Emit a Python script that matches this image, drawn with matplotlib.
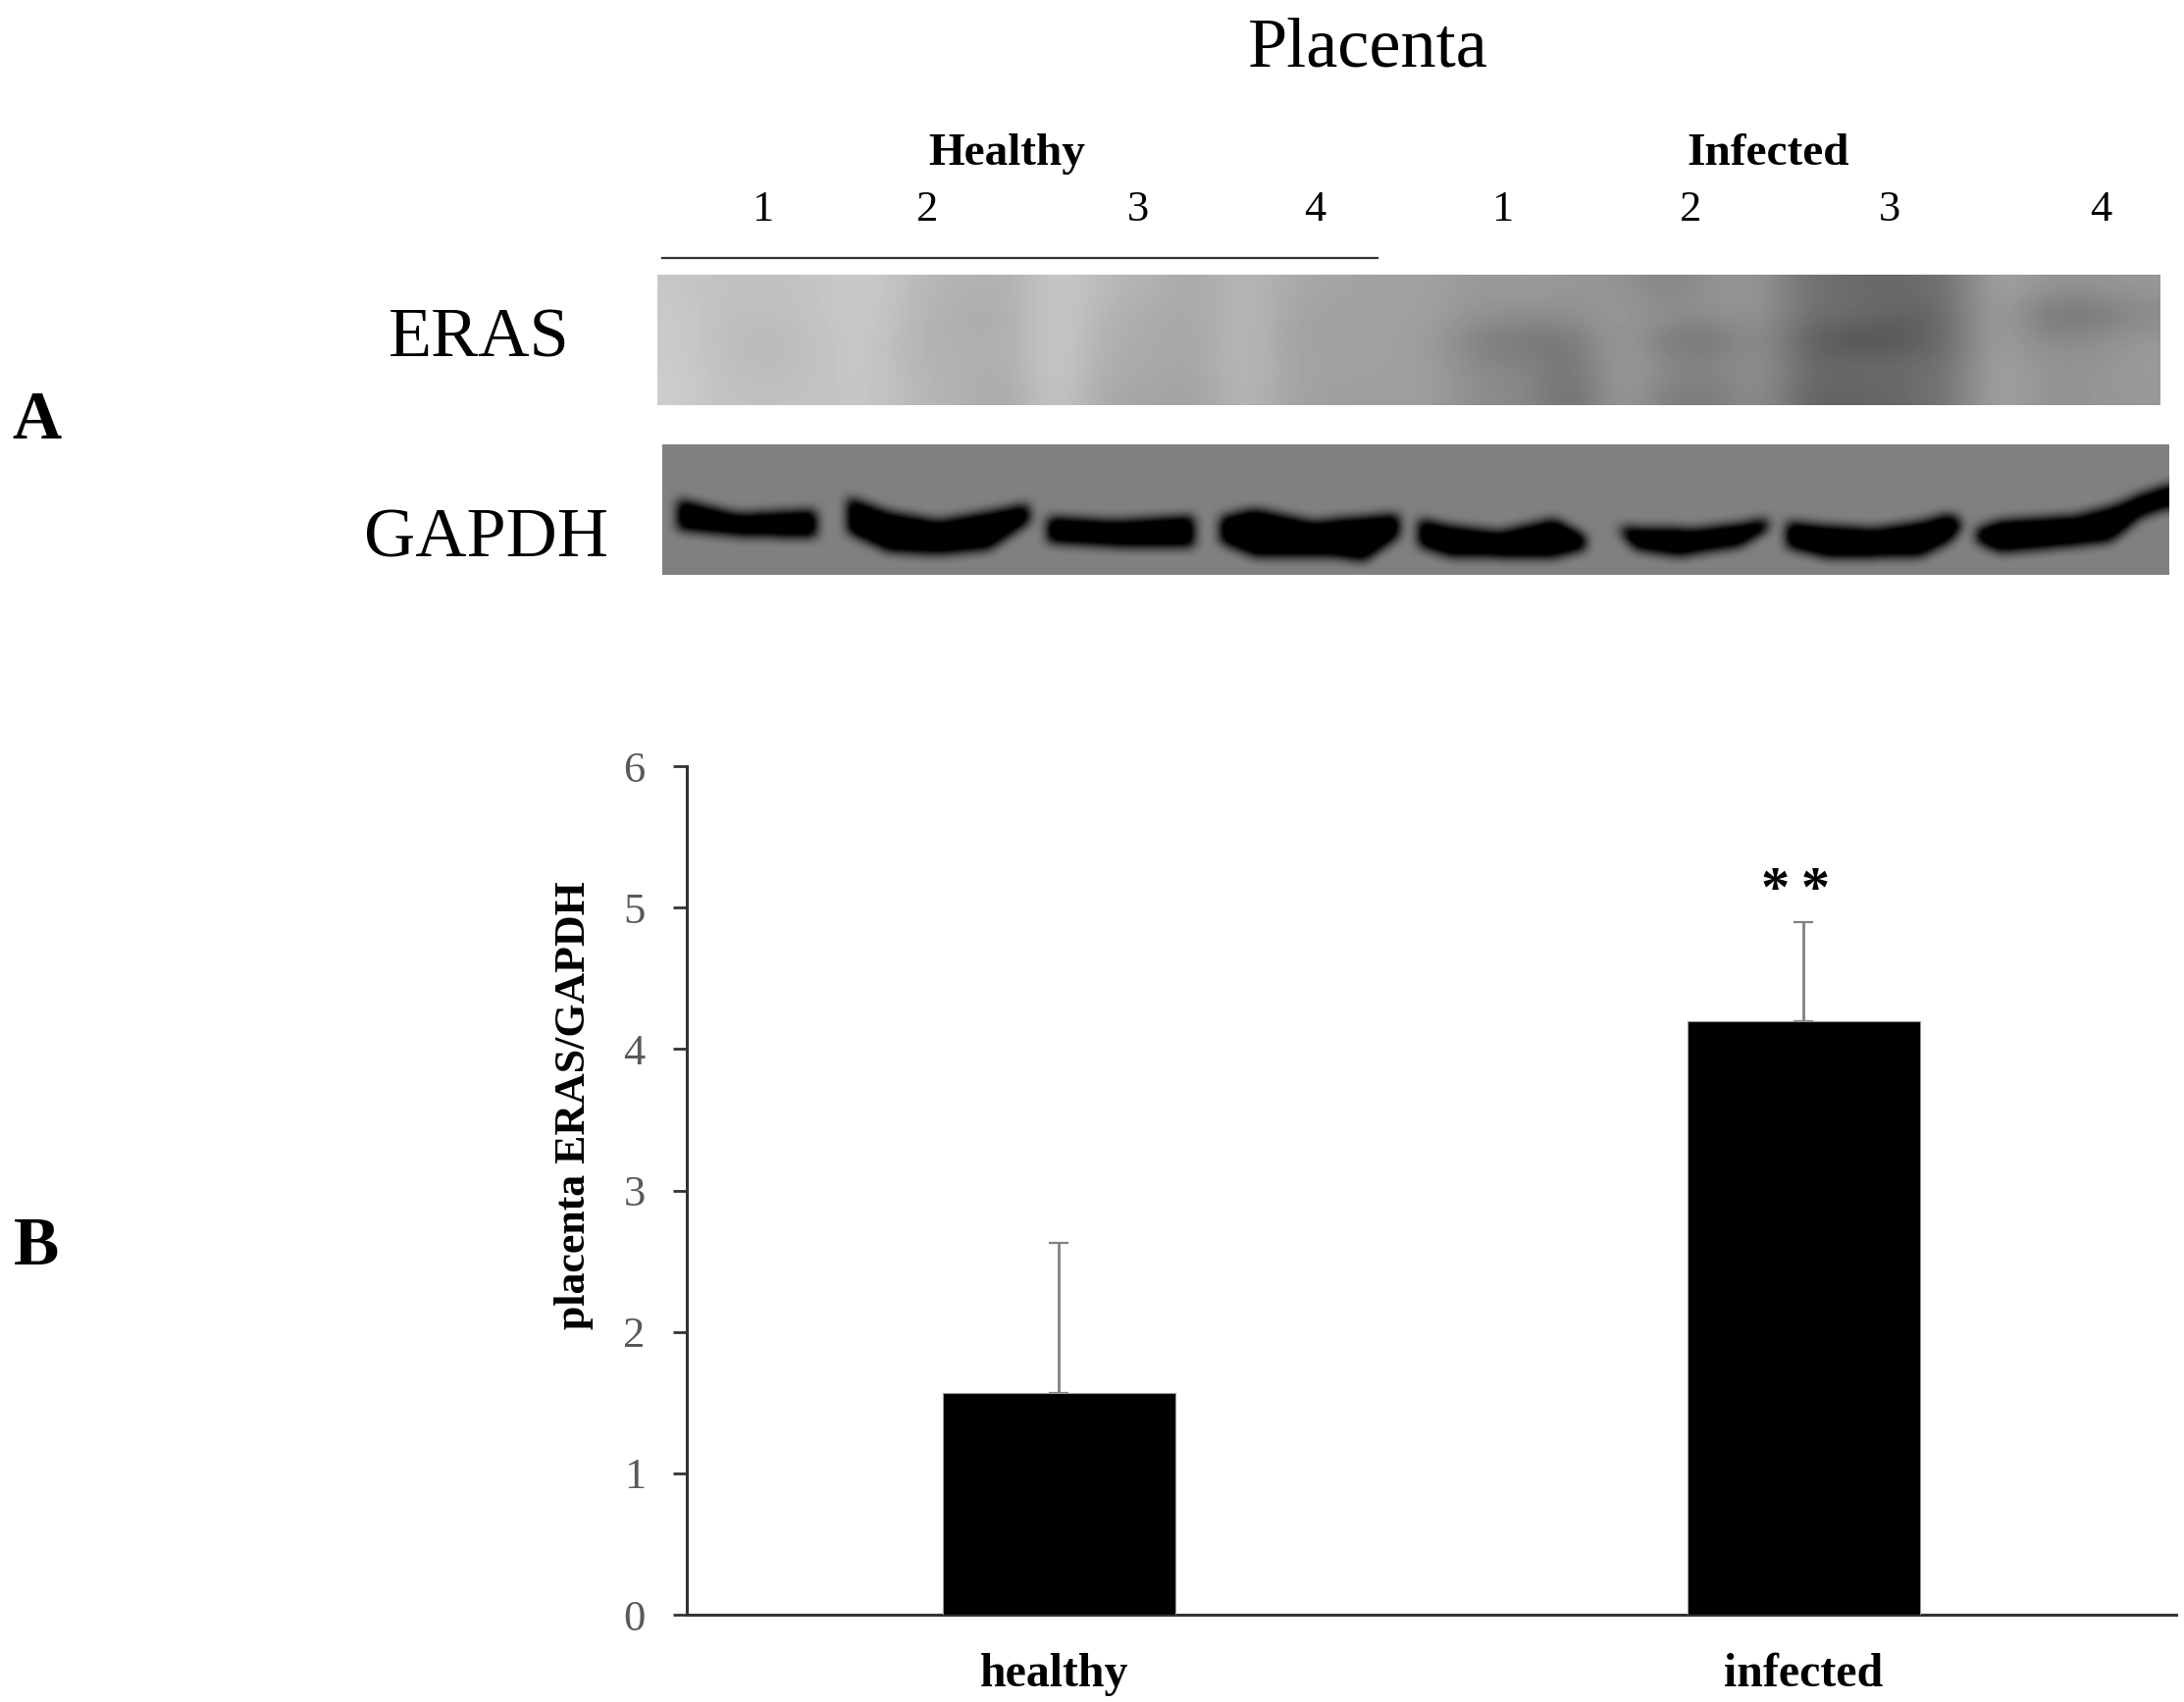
import numpy as np
import matplotlib
matplotlib.use('Agg')
import matplotlib.pyplot as plt
from matplotlib.transforms import ScaledTranslation

W, H = 2226, 1735

# bar chart values
categories = ['healthy', 'infected']
means = [1.57, 4.2]
errors = [1.06, 0.7]
y_ticks = [0, 1, 2, 3, 4, 5, 6]

# blot labels
lanes = ['1', '2', '3', '4']
healthy_lane_x = [777, 945, 1160, 1340]
infected_lane_x = [1531, 1723, 1926, 2141]

# ERAS blot, grey level (rows top to bottom)
eras = np.array([
    [198, 192, 192, 196, 204, 184, 178, 174, 204, 184, 178, 166, 186, 168, 164, 160, 162, 150, 156, 150, 150, 128, 148, 150, 112, 106, 106, 112, 166, 148, 148, 152],
    [202, 190, 190, 196, 204, 182, 172, 172, 206, 178, 172, 166, 188, 164, 160, 160, 160, 146, 144, 144, 154, 144, 144, 150, 112, 112, 96, 108, 166, 118, 114, 136],
    [202, 188, 184, 194, 202, 178, 176, 172, 206, 174, 170, 164, 188, 160, 162, 160, 158, 124, 118, 116, 160, 118, 114, 146, 94, 78, 86, 106, 164, 136, 140, 152],
    [204, 190, 186, 194, 202, 180, 176, 172, 206, 172, 170, 164, 188, 164, 162, 160, 158, 136, 134, 114, 160, 138, 134, 148, 106, 108, 108, 114, 166, 146, 148, 154],
    [204, 192, 192, 194, 200, 182, 178, 164, 204, 166, 166, 160, 186, 162, 158, 158, 158, 138, 138, 104, 160, 124, 122, 146, 98, 98, 104, 116, 166, 146, 148, 152],
], dtype=float)

# GAPDH bands: outline x, top y, bottom y in pixels
band_x = [
    [691, 752, 831],
    [864, 905, 956, 1007, 1048],
    [1068, 1135, 1216],
    [1244, 1278, 1339, 1364, 1390, 1425],
    [1446, 1477, 1528, 1584, 1615],
    [1650, 1666, 1712, 1732, 1773, 1801],
    [1821, 1860, 1911, 1957, 1987, 1997],
    [2015, 2038, 2115, 2150, 2166, 2181, 2211],
]
band_top = [
    [510, 525, 521],
    [508, 523, 532, 523, 515],
    [528, 532, 527],
    [528, 520, 533, 530, 528, 525],
    [530, 537, 543, 530, 547],
    [538, 539, 540, 540, 535, 530],
    [533, 537, 540, 533, 525, 530],
    [540, 532, 527, 518, 512, 505, 495],
]
band_bottom = [
    [540, 546, 548],
    [543, 562, 565, 560, 533],
    [553, 557, 557],
    [553, 567, 567, 568, 572, 547],
    [557, 567, 568, 568, 560],
    [540, 560, 567, 563, 557, 540],
    [558, 568, 568, 567, 552, 540],
    [553, 563, 556, 552, 540, 527, 517],
]


def blur(img, size, passes=2):
    kernel = np.ones(size) / size
    for _ in range(passes):
        img = np.pad(img, size, mode='edge')
        img = np.apply_along_axis(lambda r: np.convolve(r, kernel, mode='same'), 0, img)
        img = np.apply_along_axis(lambda r: np.convolve(r, kernel, mode='same'), 1, img)
        img = img[size:-size, size:-size]
    return img


plt.rcParams['font.family'] = ['Liberation Serif', 'DejaVu Serif']
fig = plt.figure(figsize=(W / 100, H / 100), dpi=100)

# whole figure layer in picture pixels, for the blots and free labels
top = fig.add_axes([0, 0, 1, 1])
top.axis('off')

top.imshow(eras, cmap='gray', vmin=0, vmax=255, extent=(670, 2202, 413, 281),
           interpolation='bicubic', aspect='auto')

gx0, gx1, gy0, gy1 = 675, 2211, 453, 586
gapdh = np.full((gy1 - gy0, gx1 - gx0), 128.0)
for xs, tops, bottoms in zip(band_x, band_top, band_bottom):
    col = np.arange(xs[0], xs[-1] + 1)
    t = np.interp(col, xs, tops)
    b = np.interp(col, xs, bottoms)
    for c, t1, b1 in zip(col, t, b):
        if gx0 <= c < gx1:
            gapdh[int(t1) - gy0:int(b1) - gy0, c - gx0] = 0
gapdh = blur(gapdh, 13)
# dark core stays black, soft edge fades out to the membrane grey
gapdh = np.clip((gapdh - 35) * 128 / 93, 0, 128)
top.imshow(gapdh, cmap='gray', vmin=0, vmax=255, extent=(gx0, gx1, gy1, gy0),
           interpolation='bilinear', aspect='auto')

top.set_xlim(0, W)
top.set_ylim(H, 0)

top.plot([675, 1404], [263, 263], color='#333333', lw=1.6)

top.text(1394, 50, 'Placenta', fontsize=52, ha='center', va='center')
top.text(1026, 157, 'Healthy', fontsize=34, fontweight='bold', ha='center', va='center')
top.text(1802, 157, 'Infected', fontsize=34, fontweight='bold', ha='center', va='center')
for lab, x in zip(lanes, healthy_lane_x):
    top.text(x, 214, lab, fontsize=32, ha='center', va='center')
for lab, x in zip(lanes, infected_lane_x):
    top.text(x, 214, lab, fontsize=32, ha='center', va='center')
top.text(488, 346, 'ERAS', fontsize=52, ha='center', va='center')
top.text(495, 550, 'GAPDH', fontsize=52, ha='center', va='center')
top.text(37, 430, 'A', fontsize=50, fontweight='bold', ha='center', va='center')
top.text(37, 1272, 'B', fontsize=50, fontweight='bold', ha='center', va='center')
top.text(1830, 909, '*\u2009*', fontsize=42, fontweight='bold', ha='center', va='center')

# bar chart
ax = fig.add_axes([699.5 / W, (H - 1646) / H, 1518.5 / W, 865 / H])
ax.patch.set_alpha(0)
x = np.arange(len(categories)) + 0.5
ax.bar(x, means, width=0.312, color='black', edgecolor='#999999', linewidth=0.8, zorder=3)
ax.errorbar(x, means, yerr=[[0, 0], errors], fmt='none', ecolor='#808080',
            elinewidth=2, capsize=7, capthick=1.6, zorder=2)
ax.set_xlim(0, 2)
ax.set_ylim(0, 6)
ax.set_yticks(y_ticks)
ax.set_xticks(x)
ax.set_xticklabels(categories, fontsize=34.5, fontweight='bold')
ax.tick_params(axis='x', length=0, pad=28)
ax.tick_params(axis='y', length=10, width=2, color='#333333', labelcolor='#595959',
               labelsize=32, pad=20)
ax.set_ylabel('placenta ERAS/GAPDH', fontsize=31.6, fontweight='bold', y=0.6, labelpad=22)
for s in ['top', 'right']:
    ax.spines[s].set_visible(False)
for s in ['left', 'bottom']:
    ax.spines[s].set_linewidth(2.2)
    ax.spines[s].set_color('#333333')
healthy_label = ax.get_xticklabels()[0]
healthy_label.set_transform(healthy_label.get_transform() +
                            ScaledTranslation(-5 / 100, 0, fig.dpi_scale_trans))

fig.savefig('out.png', dpi=100)
